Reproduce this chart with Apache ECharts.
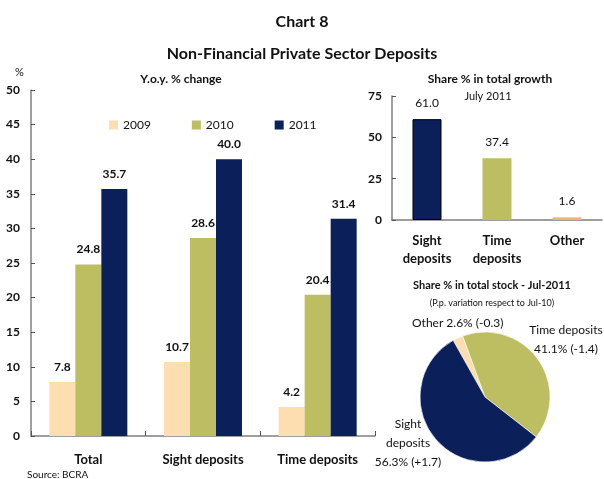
<!DOCTYPE html>
<html>
<head>
<meta charset="utf-8">
<script src="https://cdn.jsdelivr.net/npm/echarts@6/dist/echarts.min.js"></script>
<style>
  html, body { margin: 0; padding: 0; background: #fff; }
  #chart8 { width: 604px; height: 479px; }
</style>
</head>
<body>
<div id="chart8"></div>
<script>
// Y.o.y. % change
const yoyCategories = ["Total", "Sight deposits", "Time deposits"];
const yoyYears = ["2009", "2010", "2011"];
const yoy2009 = [7.8, 10.7, 4.2];
const yoy2010 = [24.8, 28.6, 20.4];
const yoy2011 = [35.7, 40.0, 31.4];
const yoyTicks = [0, 5, 10, 15, 20, 25, 30, 35, 40, 45, 50];

// Share % in total growth, July 2011
const growthCategories = ["Sight\ndeposits", "Time\ndeposits", "Other"];
const growthValues = [61.0, 37.4, 1.6];
const growthTicks = [0, 25, 50, 75];

// Share % in total stock, Jul-2011 (p.p. variation vs Jul-10)
const stockNames = ["Other", "Time deposits", "Sight\ndeposits"];
const stockShares = [2.6, 41.1, 56.3];
const stockVariation = ["-0.3", "-1.4", "+1.7"];

const FONT = "Lato";
const C2009 = "#FDDEB1";
const C2010 = "#BDBE62";
const C2011 = "#0B1F5A";
const COTHER = "#F4B36C";

const chart = echarts.init(document.getElementById("chart8"));

const axisLine = { show: true, lineStyle: { color: "#7f7f7f", width: 1.5 } };

const barLabel = {
  show: true,
  position: "top",
  distance: 9,
  fontFamily: FONT,
  fontWeight: "bold",
  fontSize: 12,
  color: "#111",
  formatter: (p) => p.value.toFixed(1),
};

const option = {
  animation: false,
  textStyle: { fontFamily: FONT },
  title: [
    { text: "Chart 8", left: "center", top: 9, textStyle: { fontFamily: FONT, fontSize: 16, fontWeight: "bold", color: "#111" } },
    { text: "Non-Financial Private Sector Deposits", left: "center", top: 41, textStyle: { fontFamily: FONT, fontSize: 16, fontWeight: "bold", color: "#111" } },
    { text: "%", left: 10, top: 62, textStyle: { fontFamily: FONT, fontSize: 11, fontWeight: "normal", color: "#111" } },
    { text: "Y.o.y. % change", left: 176, textAlign: "center", top: 68, textStyle: { fontFamily: FONT, fontSize: 12, fontWeight: "bold", color: "#111" } },
    { text: "Share % in total growth", left: 485, textAlign: "center", top: 68, textStyle: { fontFamily: FONT, fontSize: 12, fontWeight: "bold", color: "#111" } },
    { text: "July 2011", left: 483, textAlign: "center", top: 86, textStyle: { fontFamily: FONT, fontSize: 11, fontWeight: "normal", color: "#111" } },
    { text: "Share % in total stock - Jul-2011", left: 487, textAlign: "center", top: 275, textStyle: { fontFamily: FONT, fontSize: 11, fontWeight: "bold", color: "#111" } },
    { text: "(P.p. variation respect to Jul-10)", left: 487, textAlign: "center", top: 294, textStyle: { fontFamily: FONT, fontSize: 9, fontWeight: "normal", color: "#111" } },
    { text: "Source: BCRA", left: 22, top: 465, textStyle: { fontFamily: FONT, fontSize: 10, fontWeight: "normal", color: "#111" } },
  ],
  legend: {
    data: yoyYears,
    left: 104,
    top: 114,
    itemWidth: 9,
    itemHeight: 9,
    itemGap: 41,
    icon: "rect",
    textStyle: { fontFamily: FONT, fontSize: 12, color: "#111" },
  },
  grid: [
    { left: 31, top: 90, width: 344, height: 346 },
    { left: 392, top: 96, width: 210, height: 124 },
  ],
  xAxis: [
    {
      gridIndex: 0,
      type: "category",
      data: yoyCategories,
      axisLine: axisLine,
      axisTick: { show: true, inside: true, length: 5, lineStyle: { color: "#555" } },
      axisLabel: { margin: 17, fontFamily: FONT, fontWeight: "bold", fontSize: 13, color: "#111" },
    },
    {
      gridIndex: 1,
      type: "category",
      data: growthCategories,
      axisLine: axisLine,
      axisTick: { show: false },
      axisLabel: { margin: 12, lineHeight: 18, fontFamily: FONT, fontWeight: "bold", fontSize: 13, color: "#111" },
    },
  ],
  yAxis: [
    {
      gridIndex: 0,
      type: "value",
      min: yoyTicks[0],
      max: yoyTicks[yoyTicks.length - 1],
      interval: 5,
      axisLine: axisLine,
      axisTick: { show: true, inside: true, length: 4, lineStyle: { color: "#555" } },
      splitLine: { show: false },
      axisLabel: { margin: 11, fontFamily: FONT, fontWeight: "bold", fontSize: 12, color: "#111" },
    },
    {
      gridIndex: 1,
      type: "value",
      min: growthTicks[0],
      max: growthTicks[growthTicks.length - 1],
      interval: 25,
      axisLine: axisLine,
      axisTick: { show: true, inside: true, length: 4, lineStyle: { color: "#555" } },
      splitLine: { show: false },
      axisLabel: { margin: 10, fontFamily: FONT, fontWeight: "bold", fontSize: 12, color: "#111" },
    },
  ],
  series: [
    { name: "2009", type: "bar", xAxisIndex: 0, yAxisIndex: 0, data: yoy2009, barWidth: 26, barGap: "0%", itemStyle: { color: C2009 }, label: barLabel },
    { name: "2010", type: "bar", xAxisIndex: 0, yAxisIndex: 0, data: yoy2010, barWidth: 26, barGap: "0%", itemStyle: { color: C2010 }, label: barLabel },
    { name: "2011", type: "bar", xAxisIndex: 0, yAxisIndex: 0, data: yoy2011, barWidth: 26, barGap: "0%", itemStyle: { color: C2011 }, label: barLabel },
    {
      name: "growth",
      type: "bar",
      xAxisIndex: 1,
      yAxisIndex: 1,
      barWidth: 29,
      data: growthValues.map((v, i) => ({
        value: v,
        itemStyle: [
          { color: C2011, borderColor: "#000", borderWidth: 1 },
          { color: C2010 },
          { color: COTHER },
        ][i],
      })),
      label: { show: true, position: "top", distance: 10, fontFamily: FONT, fontSize: 12, color: "#111", formatter: (p) => p.value.toFixed(1) },
    },
    {
      name: "stock",
      type: "pie",
      center: [485, 397],
      radius: 65,
      startAngle: 119.4,
      clockwise: true,
      itemStyle: { borderColor: "#fff", borderWidth: 0.6 },
      data: stockNames.map((n, i) => ({
        name: n,
        value: stockShares[i],
        itemStyle: { color: [C2009, C2010, C2011][i] },
      })),
      label: {
        show: true,
        position: "outside",
        overflow: "none",
        fontFamily: FONT,
        fontSize: 12,
        color: "#111",
        lineHeight: 19,
        formatter: (p) => {
          const i = p.dataIndex;
          const txt = stockShares[i].toFixed(1) + "% (" + stockVariation[i] + ")";
          if (i === 0) return stockNames[i] + " " + txt;
          return stockNames[i] + "\n" + txt;
        },
      },
      labelLine: { show: false },
      labelLayout: (p) => {
        const pos = [
          { x: 412, y: 323, align: "left" },
          { x: 566, y: 340, align: "center" },
          { x: 408, y: 443, align: "center" },
        ][p.dataIndex];
        return { x: pos.x, y: pos.y, align: pos.align, verticalAlign: "middle" };
      },
      emphasis: { disabled: true },
    },
  ],
};

chart.setOption(option);
</script>
</body>
</html>
